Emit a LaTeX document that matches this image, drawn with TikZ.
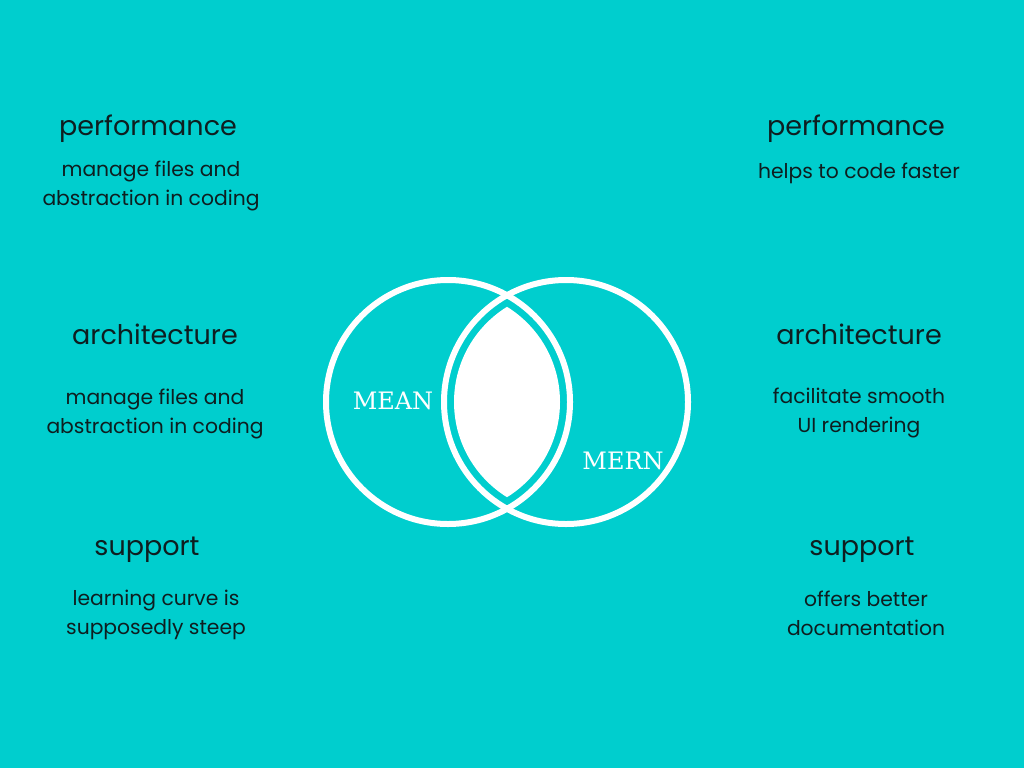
\documentclass[tikz,border=0pt]{standalone}
\usepackage{fontspec}
\setmainfont{Poppins}
\newfontfamily\slabfont{DejaVu Serif}
\usepackage{xcolor}
\usepackage{tikz}
\definecolor{bgteal}{RGB}{0,206,206}
\definecolor{inkdark}{RGB}{14,30,32}

\begin{document}
\begin{tikzpicture}[x=1pt,y=-1pt,
  head/.style={font=\fontsize{27}{31}\selectfont,text=inkdark,inner sep=0pt,anchor=base},
  body/.style={font=\fontsize{20.3}{29}\selectfont,text=inkdark,align=center,inner sep=0pt,anchor=base},
  ring/.style={draw=white,line width=6pt},
  tag/.style={font=\slabfont\fontsize{24}{28}\selectfont,text=white,inner sep=0pt}]
% background
\fill[bgteal] (0,0) rectangle (1024,768);
\useasboundingbox (0,0) rectangle (1024,768);
% venn
\coordinate (cl) at (448,402);
\coordinate (cr) at (566,402);
\begin{scope}
  \clip (cl) circle[radius=112pt];
  \fill[white] (cr) circle[radius=112pt];
\end{scope}
\draw[ring] (cl) circle[radius=122pt];
\draw[ring] (cr) circle[radius=122pt];
\node[tag] (mean) at (393,401) {MEAN};
\node[tag] (mern) at (623,461) {MERN};
% left column (placed on last baselines)
\node[head] (lperf) at (148,135) {performance};
\node[body] (lperftxt) at (151,205) {manage files and\\abstraction in coding};
\node[head] (larch) at (155,344) {architecture};
\node[body] (larchtxt) at (155,433) {manage files and\\abstraction in coding};
\node[head] (lsup) at (147,555) {support};
\node[body] (lsuptxt) at (156,634) {learning curve is\\supposedly steep};
% right column
\node[head] (rperf) at (856,135) {performance};
\node[body] (rperftxt) at (859,178) {helps to code faster};
\node[head] (rarch) at (859,344) {architecture};
\node[body] (rarchtxt) at (859,432) {facilitate smooth\\UI rendering};
\node[head] (rsup) at (862,555) {support};
\node[body] (rsuptxt) at (866,635) {offers better\\documentation};
\end{tikzpicture}
\end{document}
